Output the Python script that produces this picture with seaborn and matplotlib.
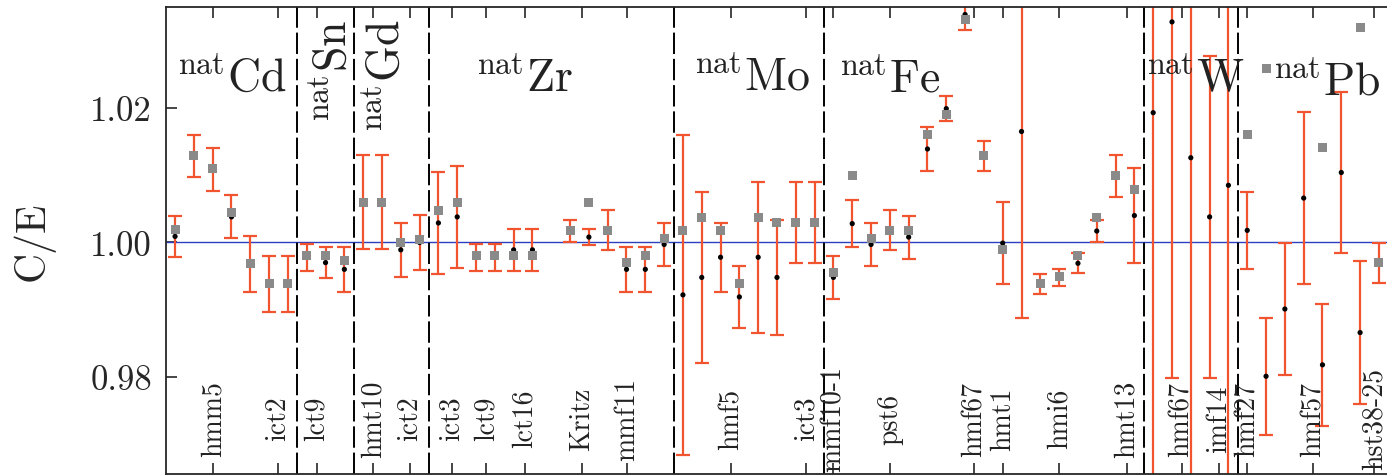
import numpy as np
import pandas as pd
import matplotlib
matplotlib.use('Agg')
import matplotlib.pyplot as plt
import matplotlib.transforms as mtransforms
import seaborn as sns

# posicion de cada caso en el eje x (el caso 20 cae fuera del grafico)
case_pos = list(range(0, 20)) + list(range(21, 65))

# C/E del calculo principal (punto negro), centro de la barra de error
ce_main = [1.0009, 1.0129, 1.0108, 1.0038, 0.9968, 0.9938, 0.9938,
           0.9978, 0.9970, 0.9960,
           1.0060, 1.0060, 0.9989, 1.0000,
           1.0029, 1.0038, 0.9978, 0.9978, 0.9989, 0.9989,
           1.0017, 1.0008, 1.0019, 0.9960, 0.9960, 0.9997,
           0.9922, 0.9948, 0.9978, 0.9919, 0.9978, 0.9948, 1.0030, 1.0030,
           0.9948, 1.0028, 0.9997, 1.0019, 1.0008, 1.0139, 1.0199, 1.0339,
           1.0129, 0.9999, 1.0165, 0.9938, 0.9948, 0.9969, 1.0017, 1.0099, 1.0040,
           1.0193, 1.0328, 1.0126, 1.0038, 1.0085,
           1.0018, 0.9801, 0.9901, 1.0066, 0.9818, 1.0104, 0.9866, 0.9969]

# incertidumbre experimental (1 sigma)
ce_unc = [0.0031, 0.0031, 0.0032, 0.0032, 0.0041, 0.0042, 0.0042,
          0.0020, 0.0023, 0.0033,
          0.0070, 0.0070, 0.0040, 0.0041,
          0.0076, 0.0076, 0.0020, 0.0020, 0.0031, 0.0031,
          0.0016, 0.0012, 0.0030, 0.0033, 0.0033, 0.0032,
          0.0238, 0.0127, 0.0051, 0.0046, 0.0112, 0.0086, 0.0060, 0.0060,
          0.0032, 0.0035, 0.0032, 0.0030, 0.0032, 0.0032, 0.0019, 0.0023,
          0.0022, 0.0061, 0.0277, 0.0015, 0.0013, 0.0015, 0.0016, 0.0031, 0.0070,
          0.0600, 0.0530, 0.0600, 0.0240, 0.0600,
          0.0057, 0.0087, 0.0098, 0.0128, 0.0091, 0.0120, 0.0107, 0.0030]

# C/E del segundo calculo (cuadrado gris); nan = fuera del grafico
ce_alt = [1.0019, 1.0130, 1.0110, 1.0045, 0.9969, 0.9939, 0.9939,
          0.9980, 0.9980, 0.9973,
          1.0060, 1.0060, 1.0000, 1.0004,
          1.0048, 1.0060, 0.9980, 0.9980, 0.9981, 0.9981,
          1.0018, 1.0060, 1.0018, 0.9970, 0.9981, 1.0006,
          1.0018, 1.0037, 1.0018, 0.9939, 1.0037, 1.0030, 1.0030, 1.0030,
          0.9956, 1.0099, 1.0006, 1.0018, 1.0018, 1.0160, 1.0191, 1.0332,
          1.0130, 0.9990, np.nan, 0.9939, 0.9950, 0.9980, 1.0037, 1.0099, 1.0079,
          np.nan, np.nan, np.nan, np.nan, np.nan,
          1.0160, 1.0258, np.nan, np.nan, 1.0141, np.nan, 1.0320, 0.9970]

# nombres de los casos en el eje x
case_ticks = [2.04, 5.49, 7.53, 10.54, 12.49, 14.71, 16.53, 18.6, 21.62, 24.01,
              29.56, 33.55, 35.0, 38.01, 42.48, 44.0, 47.0, 50.6,
              53.52, 55.5, 57.0, 60.5, 63.76]
case_labels = ['hmm5', 'ict2', 'lct9', 'hmt10', 'ict2', 'ict3', 'lct9', 'lct16',
               'Kritz', 'mmf11', 'hmf5', 'ict3', 'mmf10-1', 'pst6', 'hmf67',
               'hmt1', 'hmi6', 'hmt13', 'hmf67', 'imf14', 'hmf27', 'hmf57',
               'hst38-25']

# materiales y limites entre grupos
materials = ['Cd', 'Sn', 'Gd', 'Zr', 'Mo', 'Fe', 'W', 'Pb']
group_edges = [6.5, 9.5, 13.5, 26.5, 34.5, 51.5, 56.5]

# donde van los nombres de los materiales
mat_x = [2.98, 8.4, 11.25, 18.55, 30.62, 37.96, 54.2, 61.2]
mat_y = [0.85, 0.865, 0.855, 0.846, 0.85, 0.846, 0.85, 0.84]
mat_rot = [0, 90, 90, 0, 0, 0, 0, 0]

df = pd.DataFrame({'pos': case_pos, 'main': ce_main, 'unc': ce_unc, 'alt': ce_alt})

sns.set_style('ticks')
plt.rcParams['font.family'] = 'cmr10'
plt.rcParams['mathtext.fontset'] = 'cm'
plt.rcParams['axes.formatter.use_mathtext'] = True

fig = plt.figure(figsize=(13.87, 4.77), dpi=100)
ax = fig.add_axes([0.1197, 0.004, 0.8803, 0.979])

orange = '#f0552f'

ax.errorbar(df['pos'], df['main'], yerr=df['unc'], fmt='none', ecolor=orange,
            elinewidth=1.6, capsize=5, capthick=1.6, zorder=2)
# el punto negro queda debajo del cuadrado gris
sns.scatterplot(data=df, x='pos', y='main', marker='o', s=14, color='black',
                edgecolor='none', ax=ax, zorder=3)
sns.scatterplot(data=df, x='pos', y='alt', marker='s', s=42, color='#8a8a8a',
                edgecolor='none', ax=ax, zorder=4)

ax.axhline(1.0, color='#2b3fbf', lw=1.0, zorder=1)
for e in group_edges:
    ax.axvline(e, color='black', lw=1.4, ls=(0, (11, 2.5)), zorder=1)

ax.set_xlim(-0.48, 64.43)
ax.set_ylim(0.96555, 1.035)
ax.set_yticks([0.98, 1.00, 1.02])
ax.set_yticklabels(['0.98', '1.00', '1.02'])
ax.set_xticks(case_ticks)
ax.set_xticklabels([])
ax.tick_params(axis='both', direction='in', length=8, width=1.2, top=True)
ax.tick_params(axis='y', labelsize=25, pad=10)
for s in ['left', 'top', 'bottom']:
    ax.spines[s].set_linewidth(1.3)
ax.spines['right'].set_visible(False)

ax.set_xlabel('')
ax.set_ylabel('C/E', fontsize=30, labelpad=26)

trans = mtransforms.blended_transform_factory(ax.transData, ax.transAxes)
for xt, lab in zip(case_ticks, case_labels):
    ax.text(xt, 0.12, lab, rotation=90, ha='center', va='center',
            fontsize=20, color='#222222', transform=trans)

for name, xm, ym, rot in zip(materials, mat_x, mat_y, mat_rot):
    ax.text(xm, ym, r'$^{\mathrm{nat}}\mathrm{' + name + '}$', rotation=rot,
            ha='center', va='center', fontsize=33, color='#222222',
            transform=trans)

fig.savefig('out.png', dpi=100)
